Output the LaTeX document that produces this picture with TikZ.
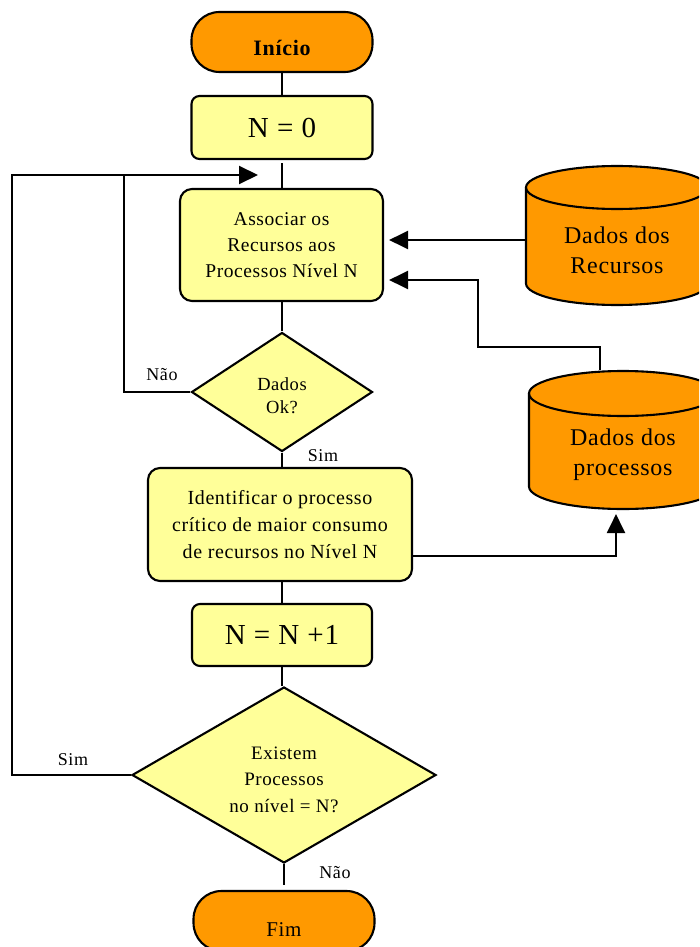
\documentclass[tikz,border=0pt]{standalone}
\usepackage{fontspec}
\setmainfont{Liberation Serif}[LetterSpace=3]
\usetikzlibrary{shapes.geometric,arrows.meta}

\definecolor{termfill}{HTML}{FF9900}
\definecolor{stepfill}{HTML}{FFFF99}

% cylinder: centre x, top-ellipse centre y, bottom-ellipse centre y, rx, ry (all in pt, page y downward)
\newcommand\dbcylinder[5]{%
  \filldraw[fill=termfill]
    (#1-#4,#2) -- (#1-#4,#3)
    arc[start angle=180,end angle=360,x radius=#4pt,y radius=#5pt]
    -- (#1+#4,#2)
    arc[start angle=0,end angle=180,x radius=#4pt,y radius=#5pt] -- cycle;
  \draw (#1-#4,#2)
    arc[start angle=180,end angle=360,x radius=#4pt,y radius=#5pt];
}

\begin{document}
\begin{tikzpicture}[x=1pt,y=-1pt,
  line width=2.1pt,
  terminal/.style={draw,fill=termfill,rectangle,rounded corners=28pt,
    minimum width=181pt,minimum height=60pt,inner sep=0pt},
  stepbox/.style={draw,fill=stepfill,rectangle,rounded corners=12pt,
    inner sep=0pt,align=center},
  decision/.style={draw,fill=stepfill,diamond,inner sep=0pt},
  storeframe/.style={draw=none,rectangle,inner sep=0pt},
  inner/.style={align=center,inner sep=0pt},
  arrow/.style={-{Triangle[length=19pt,width=18pt]}},
  lbl/.style={font=\fontsize{18}{20}\selectfont,inner sep=0pt}]

\useasboundingbox (0,0) rectangle (699,947);
\clip (0,0) rectangle (699,947);
\fill[white] (0,0) rectangle (699,947);

% data stores
\dbcylinder{617}{187.5}{283.5}{91}{21.5}
\dbcylinder{623}{393.5}{486.5}{94}{22.5}
\node[storeframe,minimum width=182pt,minimum height=139pt,
  label={[inner,yshift=-14.5pt,font=\fontsize{24}{30}\selectfont]center:Dados dos\\Recursos}]
  (rec) at (617,235.5) {};
\node[storeframe,minimum width=188pt,minimum height=138pt,
  label={[inner,yshift=-15pt,font=\fontsize{24}{30}\selectfont]center:Dados dos\\processos}]
  (proc) at (623,440) {};

% main flow
\node[terminal,
  label={[inner,yshift=-6pt,font=\bfseries\fontsize{22}{26}\selectfont]center:Início}]
  (inicio) at (282,42) {};
\node[stepbox,rounded corners=8pt,minimum width=181pt,minimum height=63pt,
  font=\fontsize{29}{30}\selectfont] (n0) at (282,127.5) {N = 0};
\node[stepbox,minimum width=203pt,minimum height=112pt,
  font=\fontsize{19.5}{26}\selectfont] (assoc) at (281.5,245)
  {Associar os\\Recursos aos\\Processos Nível N};
\node[decision,minimum width=181pt,minimum height=119pt,
  label={[inner,yshift=-4pt,font=\fontsize{18.5}{23}\selectfont]center:Dados\\Ok?}]
  (dados) at (282,392) {};
\node[stepbox,minimum width=264pt,minimum height=113pt,
  font=\fontsize{20}{27}\selectfont] (ident) at (280,524.5)
  {Identificar o processo\\crítico de maior consumo\\de recursos no Nível N};
\node[stepbox,rounded corners=8pt,minimum width=180pt,minimum height=62pt,
  font=\fontsize{29}{30}\selectfont] (nn1) at (282,635) {N = N +1};
\node[decision,minimum width=304pt,minimum height=176pt,
  label={[inner,yshift=-4.5pt,font=\fontsize{19}{26.5}\selectfont]center:Existem\\Processos\\no nível = N?}]
  (exist) at (284,775) {};
\node[terminal,
  label={[inner,yshift=-8.5pt,font=\fontsize{21}{26}\selectfont]center:Fim}]
  (fim) at (284,921) {};

% vertical connectors
\draw (inicio.south) -- (n0.north);
\draw ([yshift=-3pt]n0.south) -- (n0.south |- assoc.north);
\draw (assoc.south -| dados.north) -- (dados.north);
\draw (dados.south) -- (dados.south |- ident.north);
\draw (ident.south -| nn1.south) -- (nn1.north);
\draw (nn1.south) -- (nn1.south |- exist.north);
\draw (exist.south) -- ([yshift=5pt]fim.north);

% loop back to the association step
\coordinate (loopin) at (258,175);
\draw (dados.west) -| (124,175);
\draw[arrow] (exist.west) -| (12,175) -- (loopin);

% inputs from the data stores
\coordinate (r1) at ([yshift=-4.5pt]rec.west);
\coordinate (t1) at (r1 -| assoc.east);
\draw[arrow] (r1) -- ([xshift=5pt]t1);
\coordinate (p1) at ([xshift=-23pt]proc.north);
\coordinate (t2) at ([xshift=5pt,yshift=-35pt]assoc.east);
\draw[arrow] (p1) -- (600,347) -| (478,280) -- (t2);

% output to the process store
\coordinate (i1) at ([yshift=-31.5pt]ident.east);
\coordinate (p2) at ([xshift=-7pt,yshift=-4pt]proc.south);
\draw[arrow] (i1) -| (p2);

% branch labels
\node[lbl] (nao1) at (162,375) {Não};
\node[lbl] (sim1) at (323,456) {Sim};
\node[lbl] (sim2) at (73,760) {Sim};
\node[lbl] (nao2) at (335,873) {Não};
\end{tikzpicture}
\end{document}
